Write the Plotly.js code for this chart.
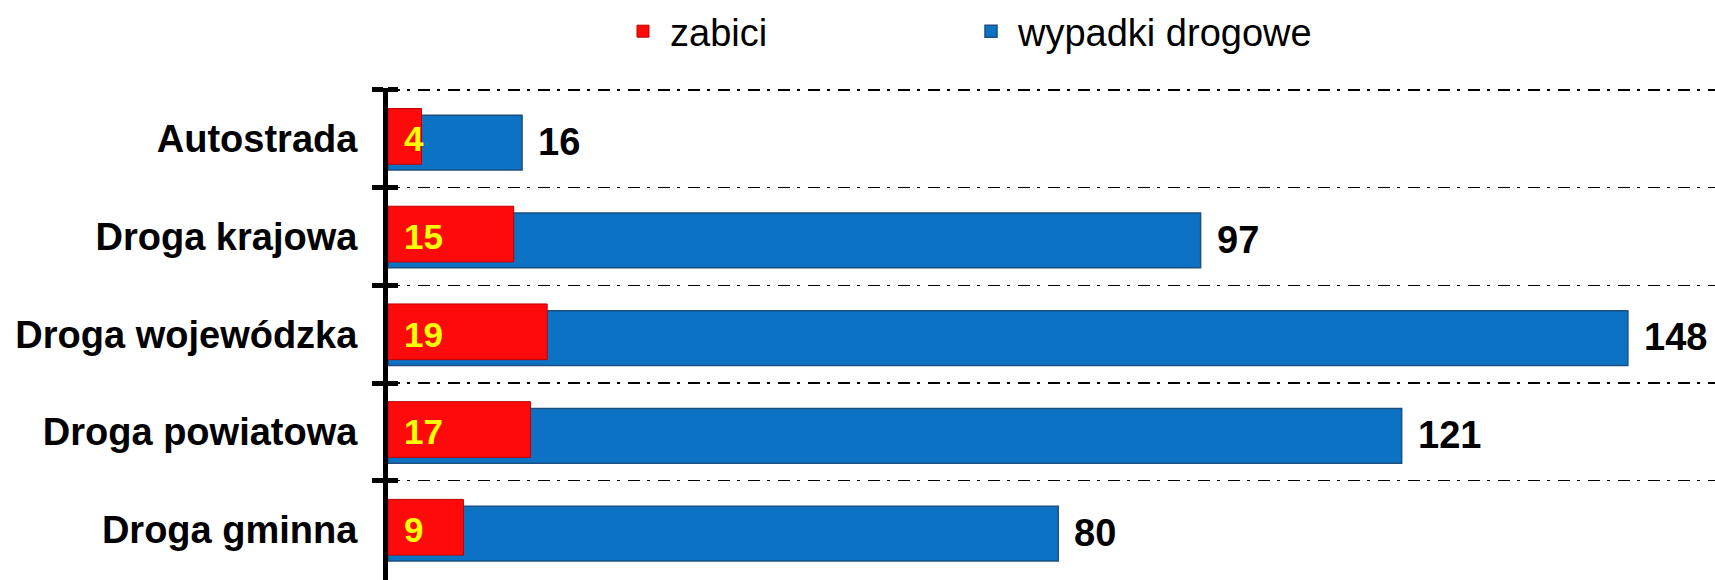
<!DOCTYPE html>
<html>
<head>
<meta charset="utf-8">
<script src="https://cdn.plot.ly/plotly-3.0.1.min.js"></script>
<style>html,body{margin:0;padding:0;background:#fff;}#chart{width:1715px;height:580px;}</style>
</head>
<body>
<div id="chart"></div>
<script>
const categories = ["Autostrada", "Droga krajowa", "Droga wojewódzka", "Droga powiatowa", "Droga gminna"];
const killed = [4, 15, 19, 17, 9];
const accidents = [16, 97, 148, 121, 80];
const seriesNames = ["zabici", "wypadki drogowe"];

const W = 1715, L = 388;
const px = p => (p - L) / (W - L);

const blue = {
  type: 'bar', orientation: 'h', name: seriesNames[1],
  x: accidents, y: categories,
  width: 0.56, offset: -0.24,
  marker: {color: '#0B72C4', line: {color: '#1D4F80', width: 1.5}},
  legend: 'legend2', hoverinfo: 'skip'
};
const red = {
  type: 'bar', orientation: 'h', name: seriesNames[0],
  x: killed, y: categories,
  width: 0.57, offset: -0.31,
  marker: {color: '#FF0A0A', line: {color: '#C00000', width: 1}},
  legend: 'legend', hoverinfo: 'skip'
};
const tickHelper = {
  type: 'bar', orientation: 'h', x: accidents, y: categories,
  yaxis: 'y2', marker: {opacity: 0}, showlegend: false, hoverinfo: 'skip'
};

const annotations = [];
categories.forEach((c, i) => {
  annotations.push({
    x: accidents[i], y: c, xref: 'x', yref: 'y', text: String(accidents[i]),
    showarrow: false, xanchor: 'left', yanchor: 'middle', xshift: 14, yshift: -3,
    font: {family: 'Liberation Sans, Arial, sans-serif', size: 38, color: '#000', weight: 700}
  });
  annotations.push({
    x: 0, y: c, xref: 'x', yref: 'y', text: String(killed[i]),
    showarrow: false, xanchor: 'left', yanchor: 'middle', xshift: 14, yshift: 0,
    font: {family: 'Liberation Sans, Arial, sans-serif', size: 35, color: '#FFFF00', weight: 700}
  });
});

const legendFont = {family: 'Liberation Sans, Arial, sans-serif', size: 38, color: '#000'};
const TOP = 85, H = 580;
const py = p => (H - p) / (H - TOP);

const layout = {
  width: 1715, height: 580,
  margin: {l: L, r: 0, t: TOP, b: 0, pad: 0},
  paper_bgcolor: '#fff', plot_bgcolor: '#fff',
  barmode: 'overlay',
  showlegend: true,
  legend: {x: px(616), xanchor: 'left', y: py(28), yanchor: 'middle', orientation: 'h', itemwidth: 44,
           font: legendFont, bgcolor: 'rgba(0,0,0,0)'},
  legend2: {x: px(964), xanchor: 'left', y: py(28), yanchor: 'middle', orientation: 'h', itemwidth: 44,
           font: legendFont, bgcolor: 'rgba(0,0,0,0)'},
  xaxis: {range: [0, 158.4], showgrid: false, zeroline: false, showticklabels: false, showline: false, ticks: ''},
  yaxis: {
    type: 'category', categoryorder: 'array', categoryarray: categories,
    range: [4.515, -0.52], autorange: false,
    tickson: 'boundaries', ticks: 'outside', ticklen: 11, tickwidth: 5, tickcolor: '#000',
    showline: true, linewidth: 5, linecolor: '#000',
    showgrid: true, gridcolor: '#000', gridwidth: 1.3, griddash: '12px,7px,3px,8px',
    ticklabelstandoff: 18,
    tickfont: {family: 'Liberation Sans, Arial, sans-serif', size: 38, color: '#000', weight: 700}
  },
  yaxis2: {
    type: 'category', categoryorder: 'array', categoryarray: categories,
    range: [4.515, -0.52], autorange: false, overlaying: 'y', side: 'left',
    tickson: 'boundaries', ticks: 'inside', ticklen: 10, tickwidth: 5, tickcolor: '#000',
    showticklabels: false, showgrid: false, showline: false, zeroline: false
  },
  annotations: annotations
};

Plotly.newPlot('chart', [blue, red, tickHelper], layout, {displayModeBar: false, staticPlot: true});
</script>
</body>
</html>
